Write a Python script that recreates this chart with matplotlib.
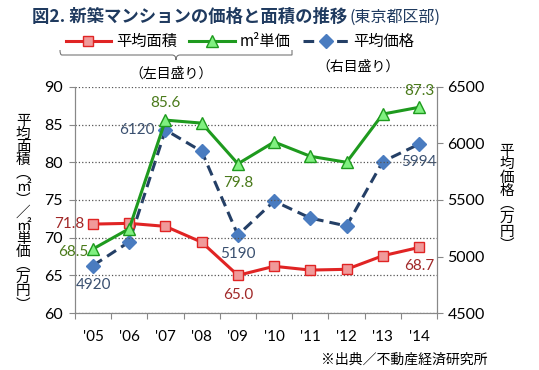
import matplotlib
matplotlib.use("Agg")
import matplotlib.pyplot as plt
from matplotlib.lines import Line2D
from matplotlib.path import Path
from matplotlib.patches import PathPatch

plt.rcParams['font.family'] = ['Noto Sans CJK JP', 'DejaVu Sans']

years = ["'05", "'06", "'07", "'08", "'09", "'10", "'11", "'12", "'13", "'14"]
area = [71.8, 71.9, 71.5, 69.4, 65.0, 66.2, 65.7, 65.8, 67.6, 68.7]
unit_price = [68.5, 71.2, 85.6, 85.2, 79.8, 82.7, 80.8, 80.0, 86.4, 87.3]
avg_price = [4920, 5130, 6120, 5930, 5190, 5490, 5340, 5270, 5840, 5994]

red = '#E02424'
green = '#1E9A1E'
navy = '#243F66'
x = list(range(len(years)))
W, H = 539, 370

fig = plt.figure(figsize=(5.39, 3.70), dpi=100)
ax = fig.add_axes([0.139, 0.154, 0.672, 0.611])
ax2 = ax.twinx()

ax.set_xlim(-0.5, 9.5)
ax.set_ylim(60, 90)
ax2.set_ylim(4500, 6500)
ax.set_yticks(range(60, 91, 5))
ax2.set_yticks(range(4500, 6501, 500))
ax.set_xticks([i - 0.5 for i in range(11)])
ax.set_xticklabels([])
ax.set_xticks(x, minor=True)
ax.set_xticklabels(years, minor=True, fontsize=11, family='Lato')
ax.tick_params(axis='x', which='minor', length=0, pad=12)
ax.tick_params(axis='x', which='major', length=4, color='#888888')
ax.tick_params(axis='y', length=4, color='#888888', labelsize=11.5, pad=5)
ax2.tick_params(axis='y', length=4, color='#888888', labelsize=11.5)
for t in ax.get_yticklabels() + ax2.get_yticklabels():
    t.set_family('Lato')

ax.grid(axis='y', linestyle=':', color='#555555', linewidth=0.9)
for a in (ax, ax2):
    a.spines['top'].set_visible(False)
    for s in ('left', 'right', 'bottom'):
        a.spines[s].set_color('#888888')

ax2.plot(x, avg_price, color=navy, lw=2.2, ls=(0, (3.5, 2)), marker='D', ms=7,
         mfc='#4A7CC0', mec='#4A7CC0', zorder=3)
ax.plot(x, area, color=red, lw=2.2, marker='s', ms=7, mfc='#F09A9A', mec=red,
        mew=1, zorder=4)
ax.plot(x, unit_price, color=green, lw=2.2, marker='^', ms=9, mfc='#80F080',
        mec=green, mew=1, zorder=5)
ax.set_zorder(ax2.get_zorder() + 1)
ax.patch.set_visible(False)

lab = dict(fontsize=11, family='Lato', textcoords='offset points')
ax.annotate('71.8', (0, area[0]), xytext=(-6, 0), ha='right', va='center', color='#A02828', **lab)
ax.annotate('68.5', (0, unit_price[0]), xytext=(-3, -2), ha='right', va='center', color='#4A7A1A', **lab)
ax2.annotate('4920', (0, avg_price[0]), xytext=(0, -14), ha='center', va='center', color='#3A5070', **lab)
ax.annotate('85.6', (2, unit_price[2]), xytext=(0, 12), ha='center', va='center', color='#4A7A1A', **lab)
ax2.annotate('6120', (2, avg_price[2]), xytext=(-8, 0), ha='right', va='center', color='#3A5070', **lab)
ax.annotate('79.8', (4, unit_price[4]), xytext=(0, -14), ha='center', va='center', color='#4A7A1A', **lab)
ax2.annotate('5190', (4, avg_price[4]), xytext=(0, -14), ha='center', va='center', color='#3A5070', **lab)
ax.annotate('65.0', (4, area[4]), xytext=(0, -14), ha='center', va='center', color='#A02828', **lab)
ax.annotate('87.3', (9, unit_price[9]), xytext=(0, 12), ha='center', va='center', color='#4A7A1A', **lab)
ax2.annotate('5994', (9, avg_price[9]), xytext=(0, -13), ha='center', va='center', color='#3A5070', **lab)
ax.annotate('68.7', (9, area[9]), xytext=(0, -13), ha='center', va='center', color='#A02828', **lab)

# vertical axis titles, one character per line
left_label = '平均面積︵㎡︶／㎡単価︵万円︶'
fig.text(0.043, 0.425, '\n'.join(left_label), ha='center', va='center',
         fontsize=10.5, linespacing=0.92)
right_label = '平均価格︵万円︶'
fig.text(0.94, 0.465, '\n'.join(right_label), ha='center', va='center',
         fontsize=10.5, linespacing=0.95)

fig.text(0.06, 0.955, '図2. 新築マンションの価格と面積の推移', ha='left', va='center',
         fontsize=12.5, fontweight='bold', color='#1F3A5F')
fig.text(0.648, 0.953, '(東京都区部)', ha='left', va='center', fontsize=11.5,
         color='#1F3A5F')

handles = [
    Line2D([], [], color=red, lw=2.2, marker='s', ms=7, mfc='#F09A9A', mec=red),
    Line2D([], [], color=green, lw=2.2, marker='^', ms=9, mfc='#80F080', mec=green),
    Line2D([], [], color=navy, lw=2.2, ls=(0, (3.5, 2)), marker='D', ms=7,
           mfc='#4A7CC0', mec='#4A7CC0'),
]
fig.legend(handles, ['平均面積', 'm²単価', '平均価格'], ncol=3, frameon=False,
           loc='center', bbox_to_anchor=(0.445, 0.888), fontsize=11,
           handlelength=3, handletextpad=0.3, columnspacing=0.8)

# brace under the first two legend entries
pts = [(60, 50), (60, 55), (62, 55), (66, 55), (172, 55), (176, 55), (176, 60),
       (176, 55), (180, 55), (286, 55), (290, 55), (292, 55), (292, 50)]
pts = [(px / W, 1 - py / H) for px, py in pts]
codes = [Path.MOVETO, Path.CURVE3, Path.CURVE3, Path.LINETO, Path.LINETO,
         Path.CURVE3, Path.CURVE3, Path.CURVE3, Path.CURVE3, Path.LINETO,
         Path.CURVE3, Path.CURVE3, Path.LINETO]
fig.patches.append(PathPatch(Path(pts, codes), transform=fig.transFigure,
                             fill=False, edgecolor='#777777', lw=0.8))
fig.text(0.317, 0.8, '（左目盛り）', ha='center', va='center', fontsize=10)
fig.text(0.665, 0.82, '（右目盛り）', ha='center', va='center', fontsize=10)

fig.text(0.905, 0.028, '※出典／不動産経済研究所', ha='right', va='center', fontsize=10)

fig.savefig('out.png', dpi=100)
